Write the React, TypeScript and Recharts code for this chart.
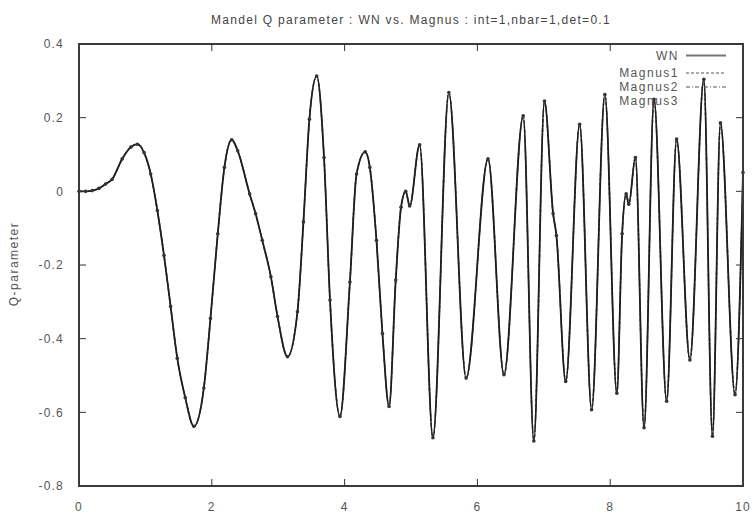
import React from 'react';
import { LineChart, Line, XAxis, YAxis } from 'recharts';

// time axis (roughly at the turning points)
const times = [
  0, 0.1, 0.2, 0.3, 0.4, 0.5, 0.65, 0.78, 0.88, 0.98, 1.08, 1.18, 1.28, 1.38, 1.48, 1.6,
  1.73, 1.88, 1.98, 2.09, 2.19, 2.3, 2.39, 2.57, 2.66, 2.76, 2.89, 2.99, 3.14, 3.29, 3.38,
  3.47, 3.58, 3.69, 3.78, 3.93, 4.08, 4.18, 4.31, 4.38, 4.48, 4.57, 4.67, 4.77, 4.85, 4.92,
  4.98, 5.13, 5.33, 5.57, 5.83, 6.16, 6.4, 6.69, 6.85, 7.01, 7.14, 7.19, 7.33, 7.54, 7.72,
  7.92, 8.1, 8.18, 8.24, 8.28, 8.38, 8.51, 8.66, 8.85, 9.0, 9.2, 9.41, 9.54, 9.66, 9.88, 10.0,
];

// Mandel Q parameter, WN solution
const qWN = [
  0, 0, 0.002, 0.008, 0.02, 0.033, 0.088, 0.12, 0.128, 0.105, 0.047, -0.052, -0.174, -0.313,
  -0.453, -0.56, -0.638, -0.534, -0.345, -0.115, 0.065, 0.14, 0.11, -0.007, -0.061, -0.133,
  -0.232, -0.34, -0.449, -0.327, -0.083, 0.196, 0.313, 0.092, -0.295, -0.611, -0.246, 0.047,
  0.107, 0.065, -0.133, -0.386, -0.584, -0.241, -0.043, 0.0, -0.04, 0.126, -0.669, 0.268,
  -0.507, 0.088, -0.498, 0.205, -0.678, 0.245, -0.06, -0.12, -0.516, 0.182, -0.593, 0.263,
  -0.548, -0.115, -0.007, -0.035, 0.092, -0.642, 0.25, -0.57, 0.142, -0.458, 0.304, -0.665,
  0.186, -0.552, 0.051,
];

// the Magnus runs lie on top of WN everywhere in the picture
const qMagnus1 = qWN;
const qMagnus2 = qWN;
const qMagnus3 = qWN;

const xTicks = [0, 2, 4, 6, 8, 10];
const yTicks = [-0.8, -0.6, -0.4, -0.2, 0, 0.2, 0.4];

const seriesNames = ['WN', 'Magnus1', 'Magnus2', 'Magnus3'];

const data = times.map((t, i) => ({
  t,
  wn: qWN[i],
  m1: qMagnus1[i],
  m2: qMagnus2[i],
  m3: qMagnus3[i],
}));

const X_DOMAIN = [0, 10];
const Y_DOMAIN = [-0.8, 0.4];

// plot box in pixels (chart margins + axis sizes below)
const W = 756;
const H = 519;
const M_TOP = 44;
const M_RIGHT = 13;
const Y_AXIS_W = 79;
const X_AXIS_H = 33;
const BOX_L = Y_AXIS_W;
const BOX_R = W - M_RIGHT;
const BOX_T = M_TOP;
const BOX_B = H - X_AXIS_H;
const sx = (t: number) => BOX_L + ((t - X_DOMAIN[0]) / (X_DOMAIN[1] - X_DOMAIN[0])) * (BOX_R - BOX_L);
const sy = (v: number) => BOX_B - ((v - Y_DOMAIN[0]) / (Y_DOMAIN[1] - Y_DOMAIN[0])) * (BOX_B - BOX_T);
const TICK_LEN = 7;

// border + inward ticks on all four sides, as one path
const borderPath = `M${BOX_L} ${BOX_T} L${BOX_R} ${BOX_T} L${BOX_R} ${BOX_B} L${BOX_L} ${BOX_B} Z`;
const tickPath = [
  ...xTicks.slice(1, -1).map(
    (t) => `M${sx(t)} ${BOX_B} L${sx(t)} ${BOX_B - TICK_LEN} M${sx(t)} ${BOX_T} L${sx(t)} ${BOX_T + TICK_LEN}`,
  ),
  ...yTicks.slice(1, -1).map(
    (v) => `M${BOX_L} ${sy(v)} L${BOX_L + TICK_LEN} ${sy(v)} M${BOX_R} ${sy(v)} L${BOX_R - TICK_LEN} ${sy(v)}`,
  ),
].join(' ');

const FONT = '"Liberation Sans", Arial, sans-serif';
const tickStyle = { fill: '#555', fontSize: 12, fontFamily: FONT, letterSpacing: 1.2 };
const fmtY = (v: number) => (v === 0 ? '0' : v.toFixed(1));

const legendY = [55.5, 73, 87, 101];
const legendDash = [undefined, '3 2', '4 2 1 2', undefined];

export default function App() {
  return (
    <div style={{ position: 'absolute', left: 0, top: 0, width: W, height: H, background: '#fff' }}>
      <LineChart width={W} height={H} data={data} margin={{ top: M_TOP, right: M_RIGHT, bottom: 0, left: 0 }}>
        <XAxis
          dataKey="t"
          type="number"
          domain={X_DOMAIN}
          ticks={xTicks}
          height={X_AXIS_H}
          tickLine={false}
          axisLine={false}
          tickMargin={10}
          tick={tickStyle}
        />
        <YAxis
          type="number"
          domain={Y_DOMAIN}
          ticks={yTicks}
          width={Y_AXIS_W}
          tickLine={false}
          axisLine={false}
          tickMargin={9}
          tickFormatter={fmtY}
          tick={tickStyle}
        />
        <Line dataKey="m1" name="Magnus1" type="monotone" stroke="#555" strokeWidth={1.4} strokeDasharray="3 2" dot={false} isAnimationActive={false} />
        <Line dataKey="m2" name="Magnus2" type="monotone" stroke="#666" strokeWidth={1.4} strokeDasharray="4 2 1 2" dot={false} isAnimationActive={false} />
        <Line dataKey="wn" name="WN" type="monotone" stroke="#1e1e1e" strokeWidth={1.8} dot={false} isAnimationActive={false} />
        <Line
          dataKey="m3"
          name="Magnus3"
          type="monotone"
          stroke="transparent"
          dot={{ r: 1.8, fill: '#333', stroke: 'none' }}
          isAnimationActive={false}
        />
      </LineChart>

      {/* plot frame as a plain bordered box */}
      <div
        style={{
          position: 'absolute',
          left: BOX_L - 1,
          top: BOX_T - 1,
          width: BOX_R - BOX_L - 2,
          height: BOX_B - BOX_T - 2,
          border: '2px solid #3a3a3a',
          pointerEvents: 'none',
        }}
      />

      <svg width={W} height={H} style={{ position: 'absolute', left: 0, top: 0, pointerEvents: 'none' }}>
        <path d={borderPath} fill="none" stroke="#3a3a3a" strokeWidth={2} />
        <path d={tickPath} fill="none" stroke="#333" strokeWidth={1} />

        <text x={411} y={24} textAnchor="middle" fontSize={12} fontFamily={FONT} fill="#444" letterSpacing={1.3}>
          Mandel Q parameter : WN vs. Magnus : int=1,nbar=1,det=0.1
        </text>
        <text
          x={18}
          y={264}
          transform="rotate(-90 18 264)"
          textAnchor="middle"
          fontSize={12}
          fontFamily={FONT}
          fill="#555"
          letterSpacing={1.5}
        >
          Q-parameter
        </text>
        {seriesNames.map((name, i) => (
          <g key={name}>
            <text x={679} y={legendY[i] + 4} textAnchor="end" fontSize={12} fontFamily={FONT} fill="#555" letterSpacing={1.5}>
              {name}
            </text>
            {i < 3 && (
              <line
                x1={686}
                x2={726}
                y1={legendY[i]}
                y2={legendY[i]}
                stroke={i === 0 ? '#777' : '#555'}
                strokeWidth={i === 0 ? 2 : 1}
                strokeDasharray={legendDash[i]}
              />
            )}
          </g>
        ))}
      </svg>
    </div>
  );
}
